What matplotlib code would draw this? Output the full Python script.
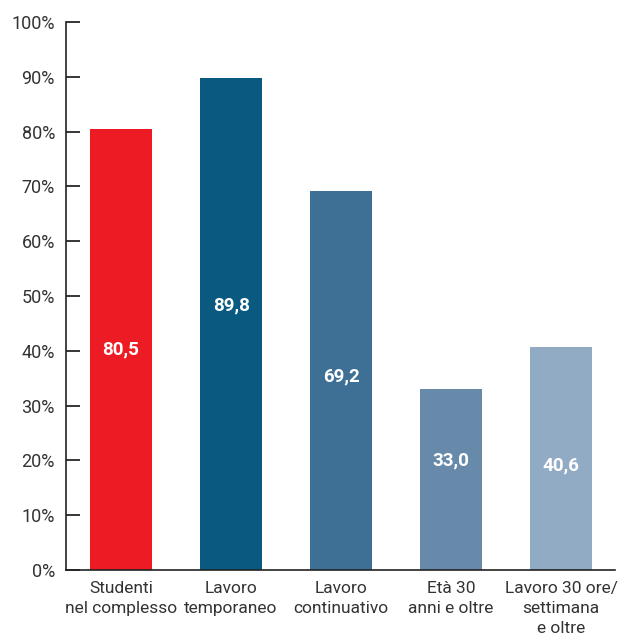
import matplotlib.pyplot as plt
from matplotlib.ticker import FuncFormatter

categories = [
    "Studenti\nnel complesso",
    "Lavoro\ntemporaneo",
    "Lavoro\ncontinuativo",
    "Età 30\nanni e oltre",
    "Lavoro 30 ore/\nsettimana\ne oltre",
]
values = [80.5, 89.8, 69.2, 33.0, 40.6]
colors = ["#ED1C24", "#0A5980", "#3E7096", "#678AAB", "#92ABC5"]
# height (in %) at which each value label sits
label_y = [40.2, 48.2, 35.4, 19.9, 19.0]

plt.rcParams["font.family"] = ["Roboto", "DejaVu Sans"]
text_color = "#333333"

fig = plt.figure(figsize=(6.2, 6.41), dpi=100)
ax = fig.add_axes([0.1065, 0.1108, 0.8855, 0.8549])

x = range(len(categories))
bars = ax.bar(x, values, width=0.564, color=colors)

for xi, v, ly in zip(x, values, label_y):
    ax.text(xi, ly, f"{v:.1f}".replace(".", ","), ha="center", va="center",
            color="white", fontsize=13.5, fontweight="bold")

ax.set_xlim(-0.5, 4.49)
ax.set_ylim(0, 100)
ax.set_yticks(range(0, 101, 10))
ax.yaxis.set_major_formatter(FuncFormatter(lambda v, p: f"{int(v)}%"))
ax.set_xticks(list(x))
ax.set_xticklabels(categories, linespacing=1.4)

ax.tick_params(axis="y", direction="in", length=10, width=1.1, pad=8,
               labelsize=13, labelcolor=text_color)
ax.tick_params(axis="x", length=0, pad=8, labelsize=12.5, labelcolor=text_color)

for side in ("top", "right"):
    ax.spines[side].set_visible(False)
for side in ("left", "bottom"):
    ax.spines[side].set_linewidth(1.2)
    ax.spines[side].set_color("#222222")

fig.savefig("out.png", dpi=100)
